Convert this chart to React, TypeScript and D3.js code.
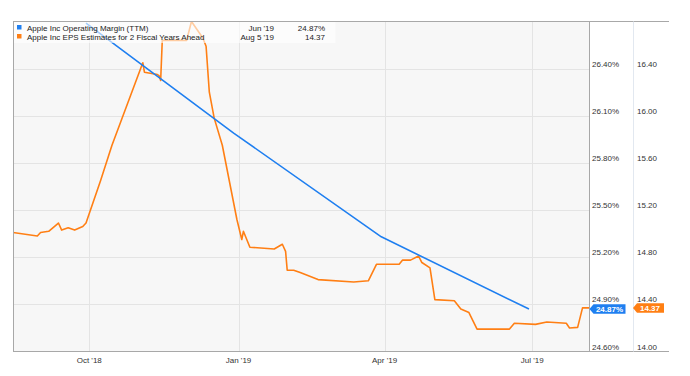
import React from "react";
import * as d3 from "d3";

const marginDates = ["2018-09-29", "2018-12-29", "2019-03-30", "2019-06-29"];
const marginValues = [26.69, 25.99, 25.33, 24.87];

const epsDates = [
  "2018-08-15", "2018-08-30", "2018-09-01", "2018-09-06", "2018-09-12", "2018-09-14",
  "2018-09-18", "2018-09-22", "2018-09-27", "2018-09-29", "2018-10-08", "2018-10-15",
  "2018-11-03", "2018-11-04", "2018-11-12", "2018-11-13", "2018-11-14", "2018-11-15",
  "2018-11-30", "2018-12-03", "2018-12-10", "2018-12-12", "2018-12-14", "2018-12-17",
  "2018-12-22", "2018-12-31", "2019-01-03", "2019-01-04", "2019-01-08", "2019-01-23",
  "2019-01-28", "2019-01-30", "2019-01-31", "2019-02-04", "2019-02-08", "2019-02-19",
  "2019-03-13", "2019-03-22", "2019-03-27", "2019-04-10", "2019-04-12", "2019-04-17",
  "2019-04-22", "2019-04-24", "2019-04-29", "2019-05-02", "2019-05-14", "2019-05-18",
  "2019-05-23", "2019-05-28", "2019-06-17", "2019-06-20", "2019-07-03", "2019-07-10",
  "2019-07-22", "2019-07-24", "2019-07-29", "2019-08-01", "2019-08-05",
];
const epsValues = [
  15.01, 14.98, 15.01, 15.02, 15.09, 15.03,
  15.05, 15.03, 15.06, 15.09, 15.45, 15.75,
  16.45, 16.37, 16.35, 16.34, 16.30, 16.64,
  16.64, 16.80, 16.66, 16.59, 16.20, 15.98,
  15.75, 15.12, 14.95, 15.02, 14.885, 14.87,
  14.91, 14.85, 14.69, 14.69, 14.67, 14.61,
  14.59, 14.60, 14.74, 14.74, 14.775, 14.775,
  14.81, 14.755, 14.71, 14.44, 14.43, 14.36,
  14.33, 14.19, 14.19, 14.24, 14.23, 14.25,
  14.24, 14.20, 14.205, 14.37, 14.37,
];

const leftTicks = [24.6, 24.9, 25.2, 25.5, 25.8, 26.1, 26.4];
const rightTicks = [14.0, 14.4, 14.8, 15.2, 15.6, 16.0, 16.4];
const xTickDates = ["2018-10-01", "2019-01-01", "2019-04-01", "2019-07-01"];
const xTickLabels = ["Oct '18", "Jan '19", "Apr '19", "Jul '19"];

const legendNames = ["Apple Inc Operating Margin (TTM)", "Apple Inc EPS Estimates for 2 Fiscal Years Ahead"];
const legendDates = ["Jun '19", "Aug 5 '19"];
const legendValues = ["24.87%", "14.37"];

const BLUE = "#1f7ff0";
const ORANGE = "#ff7f14";
const FONT = "'Liberation Sans', Arial, Helvetica, sans-serif";

export default function App() {
  const W = 690, H = 376;
  const L = 13, R = 589, T = 21.5, B = 351.5;
  const parse = d3.utcParse("%Y-%m-%d");
  const x = d3.scaleUtc().domain([parse("2018-08-15")!, parse("2019-08-05")!]).range([L, R]);
  const yL = d3.scaleLinear().domain([24.6, 26.7]).range([B, T]);
  const yR = d3.scaleLinear().domain([14.0, 16.8]).range([B, T]);

  const marginPts = marginDates.map((d, i) => [x(parse(d)!), yL(marginValues[i])] as [number, number]);
  const epsPts = epsDates.map((d, i) => [x(parse(d)!), yR(epsValues[i])] as [number, number]);
  const line = d3.line();

  const lastM = marginValues[marginValues.length - 1];
  const lastE = epsValues[epsValues.length - 1];
  const tagBY = yL(lastM);
  const tagOY = yR(lastE);

  const tagPath = (tipX: number, cy: number, w: number) => {
    const h = 9.5;
    return `M${tipX},${cy} L${tipX + 4},${cy - h / 2} L${tipX + 4 + w},${cy - h / 2} L${tipX + 4 + w},${cy + h / 2} L${tipX + 4},${cy + h / 2} Z`;
  };

  return (
    <svg width={W} height={H} style={{ position: "absolute", left: 0, top: 0, background: "#fff" }} fontFamily={FONT}>
      <defs>
        <clipPath id="plotclip">
          <rect x={L} y={T} width={R - L} height={B - T} />
        </clipPath>
      </defs>
      <rect x={L} y={T} width={R - L} height={B - T} fill="#f7f7f7" />
      {leftTicks.slice(1).map((t) => (
        <line key={"h" + t} x1={L} x2={R} y1={Math.round(yL(t)) + 0.5} y2={Math.round(yL(t)) + 0.5} stroke="#e4e4e4" strokeWidth={1} />
      ))}
      {xTickDates.map((d) => (
        <line key={"v" + d} x1={Math.round(x(parse(d)!)) + 0.5} x2={Math.round(x(parse(d)!)) + 0.5} y1={T} y2={B} stroke="#e4e4e4" strokeWidth={1} />
      ))}
      <g clipPath="url(#plotclip)">
        <path d={line(epsPts)!} fill="none" stroke={ORANGE} strokeWidth={1.6} strokeLinejoin="round" />
        <path d={line(marginPts)!} fill="none" stroke={BLUE} strokeWidth={1.6} strokeLinejoin="round" />
      </g>
      {/* legend */}
      <rect x={L + 0.5} y={T + 0.5} width={322} height={21} fill="#ffffff" opacity={0.6} />
      {legendNames.map((n, i) => (
        <g key={n}>
          <rect x={17} y={25 + i * 9} width={4.5} height={4.5} fill={i === 0 ? BLUE : ORANGE} />
          <text x={27} y={30.5 + i * 9} fontSize={8} fill="#222">{n}</text>
          <text x={274} y={30.5 + i * 9} fontSize={8} fill="#222" textAnchor="end">{legendDates[i]}</text>
          <text x={325} y={30.5 + i * 9} fontSize={8} fill="#222" textAnchor="end">{legendValues[i]}</text>
        </g>
      ))}
      {/* borders */}
      <line x1={L} x2={669} y1={T} y2={T} stroke="#a8a8a8" />
      <line x1={L} x2={669} y1={B} y2={B} stroke="#a8a8a8" />
      <line x1={L + 0.5} x2={L + 0.5} y1={T} y2={B} stroke="#a8a8a8" />
      <line x1={R + 0.5} x2={R + 0.5} y1={T} y2={B} stroke="#a8a8a8" />
      <line x1={633.5} x2={633.5} y1={T} y2={B} stroke="#e2e8f0" />
      {/* right axes */}
      {leftTicks.map((t) => (
        <text key={"l" + t} x={592} y={yL(t) - 2} fontSize={8} fill="#333">{t.toFixed(2) + "%"}</text>
      ))}
      {rightTicks.map((t) => (
        <text key={"r" + t} x={637} y={yR(t) - 2} fontSize={8} fill="#333">{t.toFixed(2)}</text>
      ))}
      {/* x axis */}
      {xTickDates.map((d, i) => (
        <text key={"x" + d} x={x(parse(d)!)} y={363} fontSize={8} fill="#333" textAnchor="middle">{xTickLabels[i]}</text>
      ))}
      {/* value tags */}
      <path d={tagPath(589.5, tagBY, 32)} fill={BLUE} />
      <text x={609.5} y={tagBY + 3} fontSize={8} fontWeight="bold" fill="#fff" textAnchor="middle">{lastM.toFixed(2) + "%"}</text>
      <path d={tagPath(633, tagOY, 27)} fill={ORANGE} />
      <text x={650} y={tagOY + 3} fontSize={8} fontWeight="bold" fill="#fff" textAnchor="middle">{lastE.toFixed(2)}</text>
    </svg>
  );
}
